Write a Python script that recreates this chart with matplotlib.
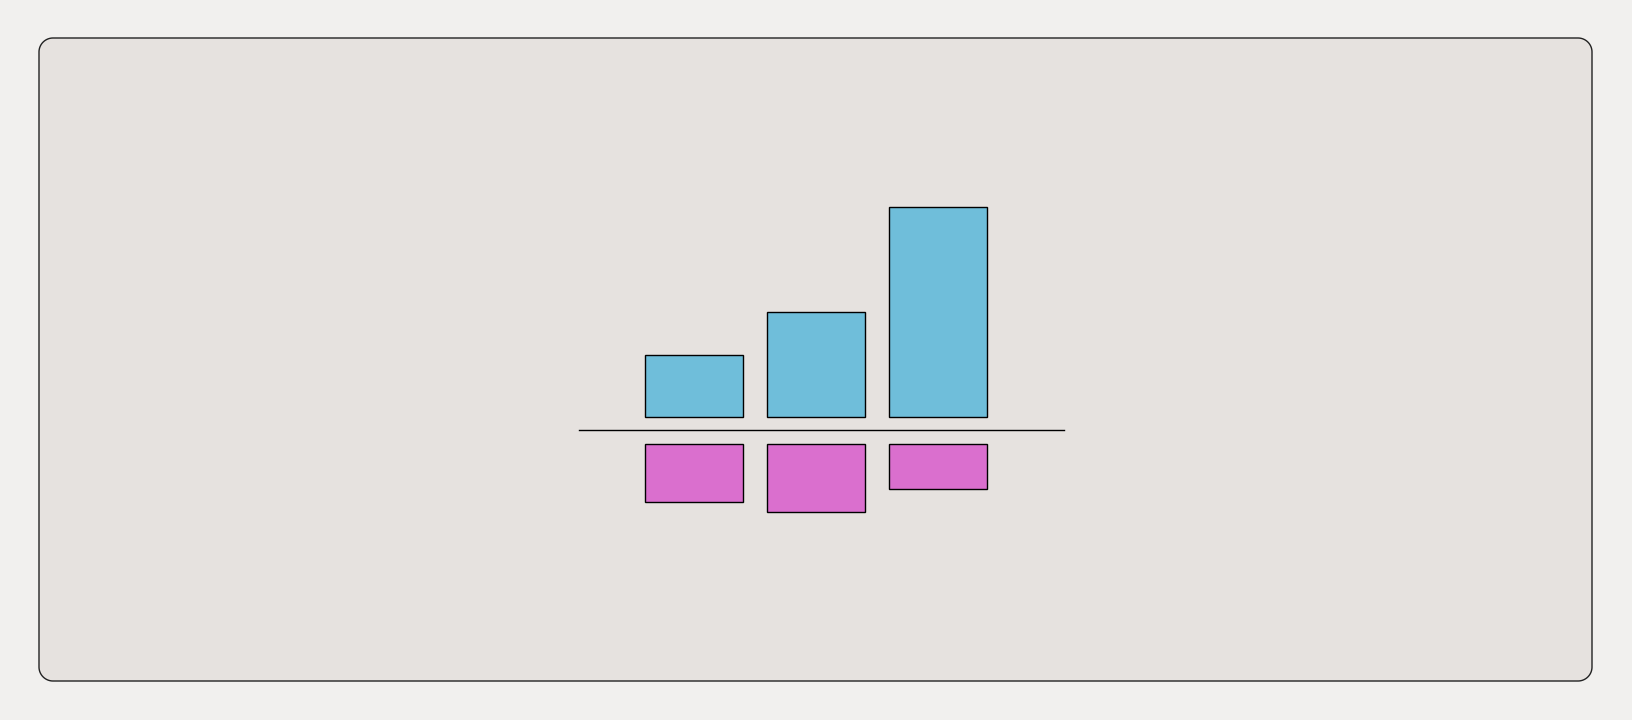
import matplotlib
matplotlib.use("Agg")
import matplotlib.pyplot as plt
import numpy as np
from matplotlib.patches import Polygon

# data
cats = ["A", "B", "C"]
up_vals = [29.5, 50, 100]
down_vals = [27.6, 32.4, 21.4]

W, H = 1632, 720
fig = plt.figure(figsize=(W / 100, H / 100), dpi=100)
fig.patch.set_facecolor("#F1F0EE")

# background axes in pixel units, holds the rounded panel
bg = fig.add_axes([0, 0, 1, 1], zorder=-1)
bg.set_xlim(0, W)
bg.set_ylim(H, 0)
bg.axis("off")
left, top, right, bottom, r = 39, 38, 1592, 681, 14
pts = []
for (cx, cy), a0 in [((left + r, top + r), 180), ((right - r, top + r), 270),
                     ((right - r, bottom - r), 0), ((left + r, bottom - r), 90)]:
    t = np.radians(np.linspace(a0, a0 + 90, 24))
    pts += list(zip(cx + r * np.cos(t), cy + r * np.sin(t)))
bg.add_patch(Polygon(pts, closed=True, facecolor="#E6E2DF",
                     edgecolor="#222222", linewidth=1.0))

x0, x1 = 579, 1064
xlim = ((x0 - 694) / 122, (x1 - 694) / 122)
pos = list(range(len(cats)))

# top bars
ax_up = fig.add_axes([x0 / W, (H - 417.3) / H, (x1 - x0) / W, 210 / H])
ax_up.bar(pos, up_vals, width=0.81, color="#6FBEDA", edgecolor="black",
          linewidth=1.0, clip_on=False)
ax_up.set_xlim(*xlim)
ax_up.set_ylim(0, 100)
ax_up.axis("off")

# bottom bars (hanging down)
ax_dn = fig.add_axes([x0 / W, (H - 444.3 - 210) / H, (x1 - x0) / W, 210 / H])
ax_dn.bar(pos, down_vals, width=0.81, color="#DA6FCE", edgecolor="black",
          linewidth=1.0, clip_on=False)
ax_dn.set_xlim(*xlim)
ax_dn.set_ylim(100, 0)
ax_dn.axis("off")

# divider line
fig.add_artist(plt.Line2D([x0 / W, x1 / W], [(H - 430.3) / H] * 2,
                          color="black", linewidth=1.0))

fig.savefig("out.png", dpi=100, facecolor=fig.get_facecolor())
